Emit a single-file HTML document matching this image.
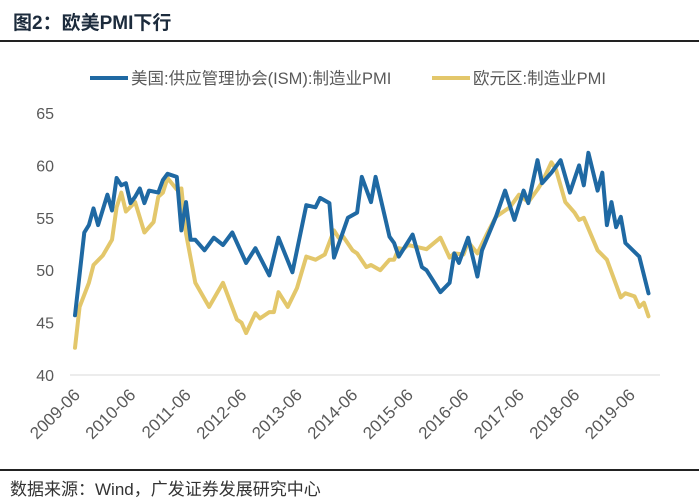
<!DOCTYPE html>
<html><head><meta charset="utf-8">
<style>
body{margin:0;background:#fff;width:699px;height:500px;overflow:hidden;font-family:"Liberation Sans","Noto Sans CJK SC",sans-serif;}
#title{position:absolute;left:13px;top:8px;font-size:19px;font-weight:bold;color:#1c2b3c;}
#rule-top{position:absolute;left:0;top:40px;width:699px;height:2px;background:#222;}
#rule-bot{position:absolute;left:0;top:469px;width:699px;height:2px;background:#222;}
#source{position:absolute;left:10px;top:475px;font-size:17px;color:#333;}
</style></head>
<body>
<div id="title">图2：欧美PMI下行</div>
<div id="rule-top"></div>
<svg id="chart" width="699" height="500" style="position:absolute;left:0;top:0"></svg>
<div id="rule-bot"></div>
<div id="source">数据来源：Wind，广发证券发展研究中心</div>
<script>
const yTicks = [40,45,50,55,60,65];
const xTickLabels = ["2009-06","2010-06","2011-06","2012-06","2013-06","2014-06","2015-06","2016-06","2017-06","2018-06","2019-06"];
const usMonths = [0,2,3,4,5,7,8,9,10,11,12,13,14,15,16,18,19,20,22,23,24,25,26,28,30,32,34,37,39,42,44,47,50,52,53,55,56,59,61,62,64,65,67,68,69,70,73,75,76,79,81,82,83,85,87,88,91,93,95,97,98,100,101,103,105,107,109,110,111,113,114,115,116,117,118,119,122,124];
const usValues = [45.7,53.6,54.3,55.9,54.3,57.2,55.7,58.8,58.1,58.3,56.4,57.0,57.8,56.4,57.6,57.4,58.6,59.2,58.9,53.8,56.5,52.9,52.9,51.9,53.1,52.4,53.6,50.7,52.1,49.5,53.1,49.8,56.2,56.0,56.9,56.4,51.2,55.0,55.5,58.9,56.5,58.9,55.1,53.2,52.6,51.3,53.4,50.3,50.0,47.9,48.8,51.6,50.7,53.1,49.4,51.9,55.1,57.6,54.8,57.6,56.4,60.5,58.3,59.3,60.5,57.4,60.0,58.1,61.2,57.6,59.3,54.3,56.5,54.1,55.1,52.6,51.3,47.8];
const euMonths = [0,1,3,4,6,8,9,10,11,13,15,17,18,19,20,22,23,24,26,29,32,35,36,37,39,40,42,43,44,46,48,50,52,54,56,57,58,60,61,63,64,66,68,69,70,71,72,74,76,79,81,82,84,85,87,89,91,94,96,98,100,101,103,104,106,108,109,110,113,115,118,119,121,122,123,124];
const euValues = [42.6,46.5,48.8,50.5,51.4,52.9,56.0,57.4,55.6,56.5,53.6,54.6,57.0,57.4,58.8,57.7,57.8,53.5,48.8,46.5,48.8,45.3,45.0,44.0,45.9,45.4,46.0,46.0,47.9,46.5,48.3,51.3,51.0,51.5,53.8,53.1,53.2,51.9,51.6,50.3,50.5,50.0,51.0,51.0,52.1,52.0,52.4,52.2,52.0,53.1,51.2,51.6,51.5,52.7,51.6,53.4,55.1,56.0,57.2,56.5,57.7,58.4,60.3,59.6,56.5,55.5,54.8,55.0,51.9,51.0,47.4,47.8,47.5,46.5,46.9,45.6];

const NS="http://www.w3.org/2000/svg";
const svg=document.getElementById('chart');
const x0=75, pxPerMonth=4.625, yTop=113, yBot=375, vMin=40, vMax=65;
function xs(m){return x0+m*pxPerMonth;}
function ys(v){return yBot-(v-vMin)/(vMax-vMin)*(yBot-yTop);}
function mk(tag,attrs){const e=document.createElementNS(NS,tag);for(const k in attrs)e.setAttribute(k,attrs[k]);svg.appendChild(e);return e;}

const axis=mk('line',{x1:70,x2:660,y1:ys(40),y2:ys(40),stroke:'#d9d9d9','stroke-width':1});



yTicks.forEach(v=>{
  const t=mk('text',{x:54,y:ys(v)+6,'text-anchor':'end','font-size':16,fill:'#595959','font-family':'Liberation Sans, sans-serif'});
  t.textContent=v;
  
  
});
xTickLabels.forEach((lab,i)=>{
  const x=xs(i*12)+6, y=396;
  const t=mk('text',{x:x,y:y,'text-anchor':'end','font-size':17,fill:'#595959','font-family':'Liberation Sans, sans-serif',transform:`rotate(-45 ${x} ${y})`});
  t.textContent=lab;
  
  
});

function series(months,vals,color,name){
  const pts=months.map((m,i)=>xs(m).toFixed(1)+','+ys(vals[i]).toFixed(1)).join(' ');
  const p=mk('polyline',{points:pts,fill:'none',stroke:color,'stroke-width':4,'stroke-linejoin':'round','stroke-linecap':'round'});
  
  
}
series(euMonths,euValues,'#e3c76b','eurozone-pmi-line');
series(usMonths,usValues,'#1f69a3','us-ism-pmi-line');

const l1=mk('line',{x1:90,x2:128,y1:78,y2:78,stroke:'#1f69a3','stroke-width':4});


const t1=mk('text',{x:131,y:84,'font-size':16.5,fill:'#595959','font-family':'Liberation Sans, Noto Sans CJK SC, sans-serif'});
t1.textContent='美国:供应管理协会(ISM):制造业PMI';


const l2=mk('line',{x1:432,x2:470,y1:78,y2:78,stroke:'#e3c76b','stroke-width':4});


const t2=mk('text',{x:473,y:84,'font-size':16.5,fill:'#595959','font-family':'Liberation Sans, Noto Sans CJK SC, sans-serif'});
t2.textContent='欧元区:制造业PMI';


</script>
</body></html>
